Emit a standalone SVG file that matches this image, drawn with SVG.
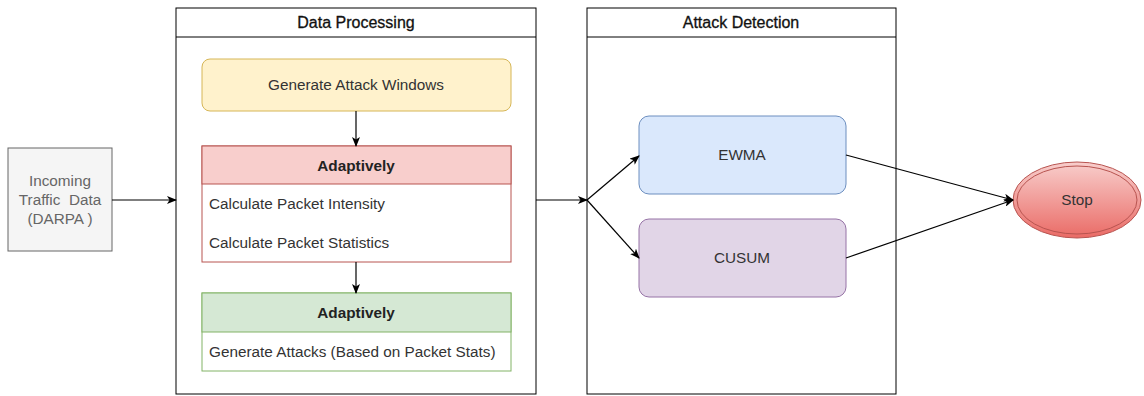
<svg xmlns="http://www.w3.org/2000/svg" width="1144" height="396" viewBox="0 0 1144 396">
  <defs>
    <marker id="arrow" viewBox="0 0 10 8" refX="9" refY="4" markerWidth="10" markerHeight="8" markerUnits="userSpaceOnUse" orient="auto">
      <path d="M0,0 L10,4 L0,8 L2.5,4 Z" fill="#000"/>
    </marker>
    <linearGradient id="stopFill" x1="0" y1="0" x2="0" y2="1">
      <stop offset="0" stop-color="#f8cecc"/>
      <stop offset="1" stop-color="#ea6b66"/>
    </linearGradient>
    <style>
      text { font-family: "Liberation Sans", Arial, sans-serif; font-size: 15.3px; fill: #333; }
      .c { text-anchor: middle; }
      .b { font-weight: bold; fill: #222; }
      .h { font-size: 16px; fill: #111; stroke: #111; stroke-width: 0.3; }
      .g { fill: #666; }
      .lane { fill: #fff; stroke: #000; stroke-width: 1; }
      .edge { fill: none; stroke: #000; stroke-width: 1.2; marker-end: url(#arrow); }
    </style>
  </defs>

  <!-- input source -->
  <g id="incoming">
    <rect x="8" y="148" width="104" height="103" fill="#f5f5f5" stroke="#666"/>
    <text class="c g" x="60" y="186">Incoming</text>
    <text class="c g" x="60" y="205" xml:space="preserve">Traffic  Data</text>
    <text class="c g" x="60" y="224">(DARPA )</text>
  </g>

  <!-- processing stage -->
  <g id="data-processing">
    <rect class="lane" x="176" y="8" width="360" height="386"/>
    <line x1="176" y1="37" x2="536" y2="37" stroke="#000"/>
    <text class="c h" x="356" y="28">Data Processing</text>
  </g>

  <g id="attack-windows">
    <rect x="202" y="59" width="309" height="52" rx="8" fill="#fff2cc" stroke="#d6b656"/>
    <text class="c" x="356" y="90">Generate Attack Windows</text>
  </g>

  <g id="adaptive-stats">
    <rect x="202" y="146" width="309" height="116" fill="#fff" stroke="#b85450"/>
    <rect x="202" y="146" width="309" height="38" fill="#f8cecc" stroke="#b85450"/>
    <text class="c b" x="356" y="171">Adaptively</text>
    <text x="209" y="209">Calculate Packet Intensity</text>
    <text x="209" y="248">Calculate Packet Statistics</text>
  </g>

  <g id="adaptive-attacks">
    <rect x="202" y="293" width="309" height="78" fill="#fff" stroke="#82b366"/>
    <rect x="202" y="293" width="309" height="39" fill="#d5e8d4" stroke="#82b366"/>
    <text class="c b" x="356" y="318">Adaptively</text>
    <text x="209" y="357">Generate Attacks (Based on Packet Stats)</text>
  </g>

  <!-- detection stage -->
  <g id="attack-detection">
    <rect class="lane" x="587" y="8" width="309" height="386"/>
    <line x1="587" y1="37" x2="896" y2="37" stroke="#000"/>
    <text class="c h" x="741" y="28">Attack Detection</text>
  </g>

  <g id="ewma">
    <rect x="639" y="116" width="207" height="78" rx="10" fill="#dae8fc" stroke="#6c8ebf"/>
    <text class="c" x="742" y="160">EWMA</text>
  </g>

  <g id="cusum">
    <rect x="639" y="219" width="207" height="78" rx="10" fill="#e1d5e7" stroke="#9673a6"/>
    <text class="c" x="742" y="263">CUSUM</text>
  </g>

  <g id="stop">
    <ellipse cx="1077" cy="200" rx="64" ry="38" fill="url(#stopFill)" stroke="#b85450"/>
    <ellipse cx="1077" cy="200" rx="60" ry="34" fill="none" stroke="#b85450"/>
    <text class="c" x="1077" y="205">Stop</text>
  </g>

  <!-- connectors -->
  <g id="connectors">
    <line class="edge" x1="112" y1="200" x2="176" y2="200"/>
    <line class="edge" x1="356" y1="111" x2="356" y2="146"/>
    <line class="edge" x1="356" y1="262" x2="356" y2="293"/>
    <line class="edge" x1="536" y1="200" x2="587" y2="200"/>
    <line class="edge" x1="587" y1="200" x2="639" y2="156"/>
    <line class="edge" x1="587" y1="200" x2="639" y2="258"/>
    <line class="edge" x1="846" y1="155" x2="1013" y2="200"/>
    <line class="edge" x1="846" y1="258" x2="1013" y2="200"/>
  </g>
</svg>
